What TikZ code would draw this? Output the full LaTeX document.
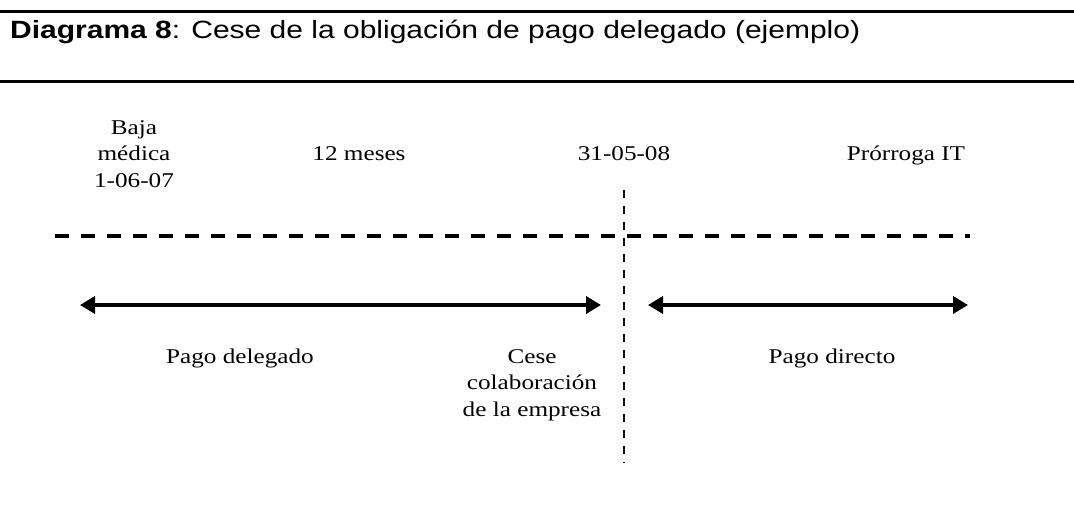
\documentclass[tikz,border=0pt]{standalone}
\usepackage{fontspec}
\setmainfont[FakeStretch=1.2]{Liberation Serif}
\newfontfamily\headfont[FakeStretch=1.2]{Liberation Sans}
\usetikzlibrary{arrows.meta}
\begin{document}
\begin{tikzpicture}[x=1pt,y=-1pt,
  rule/.style={line width=3pt},
  timeline/.style={line width=3.5pt,dash pattern=on 14pt off 12pt},
  cutline/.style={line width=1.8pt,dash pattern=on 8pt off 8pt},
  period/.style={line width=4.5pt,{Triangle[length=15pt,width=17pt]}-{Triangle[length=15pt,width=17pt]}},
  lbl/.style={font=\fontsize{21}{26.5}\selectfont,align=center,inner sep=0pt,anchor=base},
]
\useasboundingbox (0,0) rectangle (1074,530);
% header
\coordinate (r1a) at (0,11.5); \coordinate (r1b) at (1074,11.5);
\coordinate (r2a) at (0,81); \coordinate (r2b) at (1074,81);
\draw[rule] (r1a) -- (r1b);
\draw[rule] (r2a) -- (r2b);
\node[anchor=base west,inner sep=0pt,font=\headfont\fontsize{25}{30}\selectfont] (title) at (10,38)
  {\textbf{Diagrama 8}: Cese de la obligación de pago delegado (ejemplo)};
% timeline
\coordinate (tl1) at (55,236); \coordinate (tl2) at (970,236);
\draw[timeline] (tl1) -- (tl2);
\coordinate (cut1) at (624,190); \coordinate (cut2) at (624,463);
\draw[cutline] (cut1) -- (cut2);
% arrows
\coordinate (a1) at (80,305); \coordinate (a2) at (601,305);
\coordinate (b1) at (648,305); \coordinate (b2) at (968,305);
\draw[period] (a1) -- (a2);
\draw[period] (b1) -- (b2);
% labels (multi-line nodes are placed by the baseline of their last line)
\node[lbl] (baja) at (134,187) {Baja\\médica\\1-06-07};
\node[lbl] (meses) at (359,160) {12 meses};
\node[lbl] (fecha) at (624,160) {31-05-08};
\node[lbl] (prorroga) at (906,160) {Prórroga IT};
\node[lbl] (delegado) at (240,363) {Pago delegado};
\node[lbl] (cese) at (532,416) {Cese\\colaboración\\de la empresa};
\node[lbl] (directo) at (832,363) {Pago directo};
\end{tikzpicture}
\end{document}
